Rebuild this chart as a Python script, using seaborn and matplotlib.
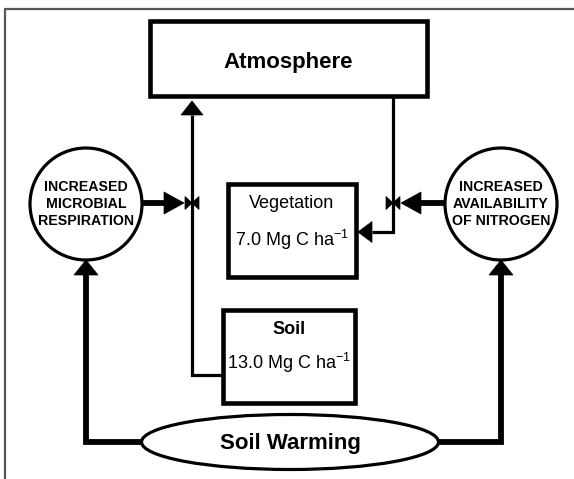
import numpy as np
import seaborn as sns
import matplotlib.pyplot as plt
from matplotlib.patches import Rectangle, Circle, Ellipse, Polygon

# Diagram content
sink_label = "Atmosphere"
pool_names = ["Vegetation", "Soil"]
pool_values = [7.0, 13.0]  # Mg C ha-1
driver_labels = ["INCREASED\nMICROBIAL\nRESPIRATION",
                 "INCREASED\nAVAILABILITY\nOF NITROGEN"]
source_label = "Soil Warming"
unit = "Mg C ha$^{-1}$"

sns.set_theme(style="white")
plt.rcParams["font.family"] = ["Liberation Sans", "DejaVu Sans"]
plt.rcParams["mathtext.default"] = "regular"
plt.rcParams["text.color"] = "black"

W, H = 574, 479
fig = plt.figure(figsize=(W / 100, H / 100), dpi=100)
ax = fig.add_axes([0, 0, 1, 1])
ax.set_xlim(0, W)
ax.set_ylim(H, 0)
ax.axis("off")

# layout in pixel units (x0, y0, x1, y1)
atm_box = (150, 21, 427, 96)
pool_boxes = [(228, 184, 356, 277), (223, 310, 355, 403)]
circles = [(86, 204), (501, 204)]
radius = 56
ell = (290, 442, 297, 55)
up_x, down_x, valve_y = 192, 393, 203

THIN, THICK, BOX = 2.3, 4.2, 3.3


def line(xs, ys, lw=THIN):
    ax.plot(xs, ys, color="black", lw=lw, solid_joinstyle="miter",
            solid_capstyle="butt", zorder=2)


def head(tip, direction, length, width):
    tx, ty = tip
    dx, dy = direction
    bx, by = tx - dx * length, ty - dy * length
    px, py = -dy * width / 2, dx * width / 2
    ax.add_patch(Polygon([(tx, ty), (bx + px, by + py), (bx - px, by - py)],
                         closed=True, fc="black", ec="black", lw=0.5, zorder=4))


def bowtie(x, y, w=7, h=6.5):
    for s in (-1, 1):
        ax.add_patch(Polygon([(x, y), (x + s * w, y - h), (x + s * w, y + h)],
                             closed=True, fc="black", ec="black", lw=0.5, zorder=4))


def box(b):
    ax.add_patch(Rectangle((b[0], b[1]), b[2] - b[0], b[3] - b[1], fc="white",
                           ec="black", lw=BOX, joinstyle="miter", zorder=3))


# page frame
ax.plot([5, 5, W], [H, 9, 9], color="#555555", lw=1.6, zorder=1)

# soil -> atmosphere flux
sx0 = pool_boxes[1][0]
line([sx0, up_x, up_x], [375, 375, 115])
head((up_x, atm_box[3] + 5), (0, -1), 14, 22)

# atmosphere -> vegetation flux
vx1 = pool_boxes[0][2]
line([down_x, down_x, vx1 + 16], [atm_box[3], 232, 232])
head((vx1 + 2, 232), (-1, 0), 14, 21)

# valves on the fluxes
bowtie(up_x, valve_y)
bowtie(down_x, valve_y)

# drivers -> valves
line([circles[0][0] + radius, 164], [valve_y, valve_y], THICK)
head((184, valve_y), (1, 0), 20, 22)
line([circles[1][0] - radius, 420], [valve_y, valve_y], THICK)
head((401, valve_y), (-1, 0), 20, 22)

# soil warming -> drivers
ex, ey, ew, eh = ell
line([ex - ew / 2, circles[0][0], circles[0][0]], [ey, ey, 272], THICK)
head((circles[0][0], circles[0][1] + radius), (0, -1), 15, 24)
line([ex + ew / 2, circles[1][0], circles[1][0]], [ey, ey, 272], THICK)
head((circles[1][0], circles[1][1] + radius), (0, -1), 15, 24)

# boxes
box(atm_box)
ax.text((atm_box[0] + atm_box[2]) / 2, 62, sink_label, ha="center", va="center",
        fontsize=16, fontweight="bold", zorder=5)

name_y = [203, 330]
val_y = [240, 363]
weights = ["normal", "bold"]
for b, name, val, ny, vy, wt in zip(pool_boxes, pool_names, pool_values, name_y, val_y, weights):
    box(b)
    cx = (b[0] + b[2]) / 2
    ax.text(cx, ny, name, ha="center", va="center", fontsize=13,
            fontweight=wt, zorder=5)
    ax.text(cx, vy, f"{val:.1f} {unit}", ha="center", va="center",
            fontsize=13, zorder=5)

# driver circles
for (cx, cy), lab in zip(circles, driver_labels):
    ax.add_patch(Circle((cx, cy), radius, fc="white", ec="black", lw=THIN, zorder=3))
    ax.text(cx, cy, lab, ha="center", va="center", fontsize=10.2, fontweight="bold",
            linespacing=1.3, zorder=5)

# soil warming ellipse
ax.add_patch(Ellipse((ex, ey), ew, eh, fc="white", ec="black", lw=THIN, zorder=3))
ax.text(ex, ey + 1, source_label, ha="center", va="center", fontsize=16,
        fontweight="bold", zorder=5)

fig.savefig("out.png", dpi=100, facecolor="white")
